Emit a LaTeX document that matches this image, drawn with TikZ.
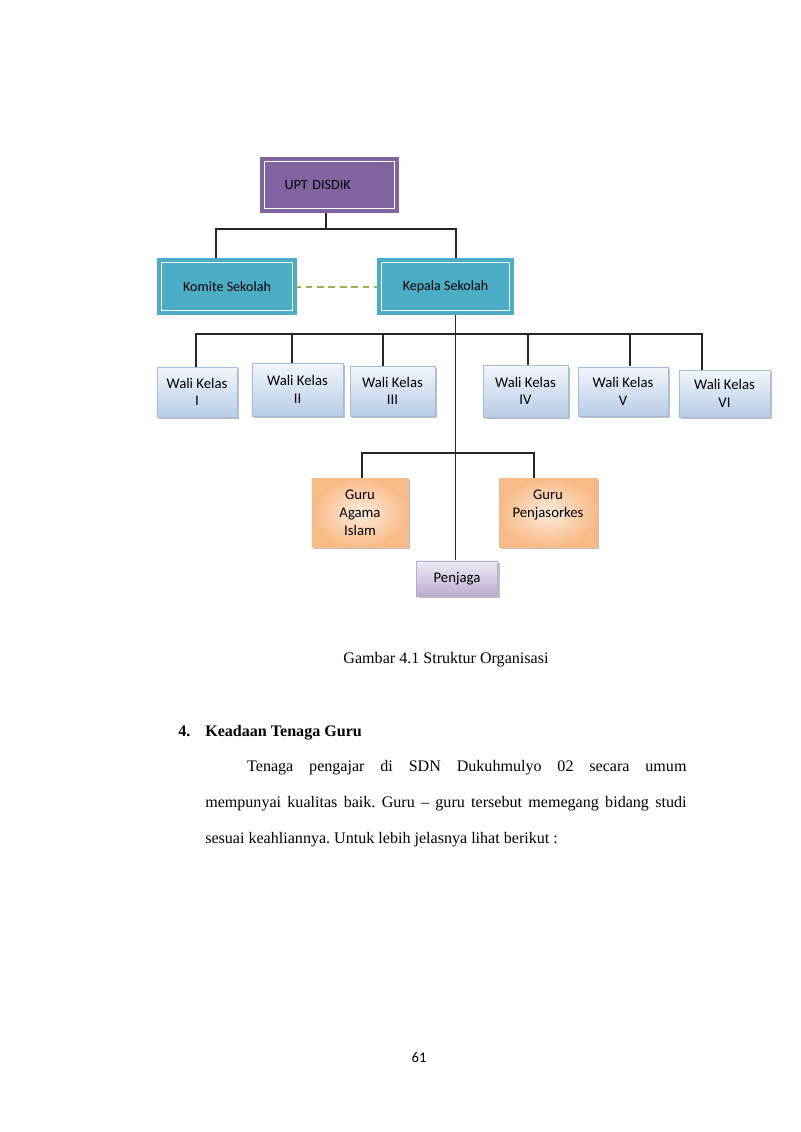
\documentclass[tikz,border=0pt]{standalone}
\usepackage{fontspec}
\setmainfont{Liberation Serif}
\newfontfamily\calibri{Carlito}
\usetikzlibrary{calc,shadows,backgrounds}
\frenchspacing

\definecolor{uptpurple}{RGB}{128,100,162}
\definecolor{kteal}{RGB}{75,172,198}
\definecolor{dashgreen}{RGB}{150,182,82}
\definecolor{walitop}{RGB}{242,246,252}
\definecolor{walibot}{RGB}{184,204,230}
\definecolor{waliedge}{RGB}{165,188,218}
\definecolor{guruin}{RGB}{253,236,222}
\definecolor{guruout}{RGB}{248,186,135}
\definecolor{jagatop}{RGB}{238,234,244}
\definecolor{jagabot}{RGB}{188,172,208}

\begin{document}
\begin{tikzpicture}[x=0.02625cm, y=-0.02625cm,
  link/.style={draw=black!85, line width=0.8pt},
  head/.style={draw=#1, fill=#1, line width=2.6pt, double=white,
    double distance=1.3pt, inner sep=2pt,
    font=\calibri\fontsize{10.5}{12}\selectfont},
  boxshadow/.style={drop shadow={shadow xshift=1.8pt, shadow yshift=-1.8pt,
    fill=black!45, opacity=0.55}},
  wali/.style={shade, top color=walitop, bottom color=walibot,
    draw=waliedge, line width=0.5pt, boxshadow, align=center, inner sep=1pt,
    font=\calibri\fontsize{11}{13}\selectfont},
  guru/.style={shade, shading=radial, inner color=guruin, outer color=guruout,
    draw=guruout, line width=0.5pt, boxshadow, align=center, inner sep=1pt,
    font=\calibri\fontsize{11}{13.4}\selectfont},
  jaga/.style={shade, top color=jagatop, bottom color=jagabot,
    draw=jagabot, line width=0.5pt, boxshadow, align=center, inner sep=1pt,
    font=\calibri\fontsize{11}{13}\selectfont},
  txt/.style={inner sep=0pt, font=\fontsize{12}{14}\selectfont}]
  \useasboundingbox (0,0) rectangle (800,1132);

  % top of the chart
  \node[head=uptpurple, text width=2.35cm, inner xsep=0.53cm, align=left,
        minimum height=1.23cm] (upt) at (329.5,185) {UPT DISDIK};
  \node[head=kteal, minimum width=3.44cm, minimum height=1.26cm] (komite)
        at (227,286.5) {Komite Sekolah};
  \node[head=kteal, minimum width=3.36cm, minimum height=1.26cm] (kepala)
        at (445.5,286.5) {Kepala Sekolah};

  % wali kelas row
  \node[wali, minimum width=2.10cm, minimum height=1.31cm] (w1) at (197,392) {Wali Kelas\\I};
  \node[wali, minimum width=2.39cm, minimum height=1.39cm] (w2) at (297.5,389.5) {Wali Kelas\\II};
  \node[wali, minimum width=2.23cm, minimum height=1.31cm] (w3) at (392.5,391) {Wali Kelas\\III};
  \node[wali, minimum width=2.23cm, minimum height=1.36cm] (w4) at (525.5,391) {Wali Kelas\\IV};
  \node[wali, minimum width=2.36cm, minimum height=1.29cm] (w5) at (623,391.5) {Wali Kelas\\V};
  \node[wali, minimum width=2.39cm, minimum height=1.23cm] (w6) at (724.5,393.5) {Wali Kelas\\VI};

  % guru and penjaga
  \node[guru, minimum width=2.52cm, minimum height=1.81cm] (gai) at (360,512.5) {Guru\\Agama\\Islam};
  \node[guru, minimum width=2.57cm, minimum height=1.81cm] (gpj) at (548,512.5) {Guru\\Penjasorkes\\\mbox{}};
  \node[jaga, minimum width=2.13cm, minimum height=0.92cm] (penjaga) at (457,578.5) {Penjaga};

  % bus points
  \coordinate (U) at (326,229);
  \coordinate (S) at ($(kepala.south)+(10,0)$);
  \coordinate (W) at (455.5,334);
  \coordinate (G) at (455.5,453);

  \begin{scope}[on background layer]
    \fill[white] (0,0) rectangle (800,1132);
    \draw[link] ($(upt.south)+(-3.5,0)$) -- (U);
    \draw[link] (U) -| ($(komite.north)+(-11,0)$);
    \draw[link] (U) -| ($(kepala.north)+(10.5,0)$);
    \draw[link] (S) -- (S |- penjaga.north);
    \foreach \w/\dx in {w1/-1, w2/-5.5, w3/-9.5, w4/2.5, w5/7, w6/-22.5}
      \draw[link] ($(\w.north)+(\dx,0)$) |- (W);
    \foreach \g/\dx in {gai/2, gpj/-14}
      \draw[link] ($(\g.north)+(\dx,0)$) |- (G);
    \draw[dashgreen, line width=1.5pt, dash pattern=on 5pt off 3.5pt]
      (komite.east) -- (kepala.west);
  \end{scope}

  % text below the chart
  \node[txt, anchor=base] (caption) at (446,663) {Gambar 4.1 Struktur Organisasi};
  \node[txt, anchor=base west, font=\fontsize{12}{14}\selectfont\bfseries] (num) at (178,736) {4.};
  \node[txt, anchor=base west, font=\fontsize{12}{14}\selectfont\bfseries] (heading) at (205,736) {Keadaan Tenaga Guru};
  \node[txt, anchor=north west, text width=12.63cm, align=justify,
        font=\fontsize{12}{26.9}\selectfont] (para) at (205,760)
    {\hspace*{1.1cm}Tenaga pengajar di SDN Dukuhmulyo 02 secara umum\linebreak
     mempunyai kualitas baik. Guru – guru tersebut memegang bidang studi\linebreak
     sesuai keahliannya. Untuk lebih jelasnya lihat berikut :};
  \node[inner sep=0pt, anchor=base, font=\calibri\fontsize{11}{13}\selectfont] (page) at (419,1062) {61};
\end{tikzpicture}
\end{document}
